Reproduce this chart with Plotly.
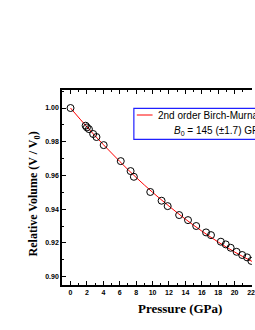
import plotly.graph_objects as go

# Measured data (pressure GPa, relative volume)
pressure = [0.0, 1.84, 2.0, 2.24, 2.76, 3.16, 4.04, 6.12, 7.32, 7.72, 9.72, 11.1, 11.84,
            13.24, 14.32, 15.32, 16.52, 17.12, 18.32, 18.92, 19.52, 20.24, 20.92, 21.52, 22.04]
rel_volume = [1.000, 0.9895, 0.9885, 0.9875, 0.9846, 0.9828, 0.9780, 0.9685, 0.9626, 0.9592,
              0.9502, 0.9450, 0.9418, 0.9365, 0.9335, 0.9300, 0.9262, 0.9246, 0.9207, 0.9191,
              0.9171, 0.9147, 0.9128, 0.9114, 0.9093]

# Fitted curve
fit_p = [0, 2, 4, 6, 8, 10, 12, 14, 16, 18, 20, 22, 24]
fit_v = [1.0, 0.9888, 0.9783, 0.9683, 0.9588, 0.9500, 0.9418, 0.9341, 0.9270, 0.9205,
         0.9146, 0.9093, 0.9046]

x_ticks = [0, 2, 4, 6, 8, 10, 12, 14, 16, 18, 20, 22]
y_ticks = [0.90, 0.92, 0.94, 0.96, 0.98, 1.00]

legend_line1 = "2nd order Birch-Murnaghan"
legend_line2 = "<i>B</i><sub>0</sub> = 145 (±1.7) GPa"

W, H = 255, 330
L, R, T, B = 62, 0, 90, 45
PW, PH = W - L - R, H - T - B


def px(x):
    return (x - L) / PW


def py(y):
    return (H - B - y) / PH


fig = go.Figure()
fig.add_trace(go.Scatter(x=fit_p, y=fit_v, mode="lines", line=dict(color="red", width=1, shape="spline"),
                         showlegend=False))
fig.add_trace(go.Scatter(x=pressure, y=rel_volume, mode="markers",
                         marker=dict(symbol="circle-open", size=7, color="black", line=dict(width=1)),
                         showlegend=False))

axis_font = dict(family="Arial, Liberation Sans", size=7, color="black", weight="bold")

fig.update_layout(
    width=W, height=H, margin=dict(l=L, r=R, t=T, b=B),
    paper_bgcolor="white", plot_bgcolor="white",
    showlegend=False,
    xaxis=dict(range=[-1.04, 22.12], tickvals=x_ticks, ticks="inside", ticklen=4, tickwidth=1,
               tickcolor="black", showline=True, linecolor="black", linewidth=1.5, mirror="ticks",
               showgrid=False, zeroline=False, tickfont=axis_font, ticklabeloverflow="allow",
               minor=dict(dtick=1, tick0=0, ticks="inside", ticklen=2, tickcolor="black", showgrid=False)),
    yaxis=dict(range=[0.895, 1.0107], tickvals=y_ticks, tickformat=".2f", ticks="inside", ticklen=4,
               tickwidth=1, tickcolor="black", showline=True, linecolor="black", linewidth=1.5,
               mirror=False, showgrid=False, zeroline=False, tickfont=axis_font,
               minor=dict(dtick=0.01, tick0=0.90, ticks="inside", ticklen=2, tickcolor="black",
                          showgrid=False)),
)

# Axis titles
fig.add_annotation(text="<b>Pressure (GPa)</b>", xref="paper", yref="paper", x=px(182), y=py(308),
                   xanchor="center", yanchor="middle", showarrow=False,
                   font=dict(family="Liberation Serif, Times New Roman", size=13, color="black"))
fig.add_annotation(text="<b>Relative Volume (V / V<sub>0</sub>)</b>", xref="paper", yref="paper",
                   x=px(34), y=py(194), xanchor="center", yanchor="middle", textangle=-90, showarrow=False,
                   font=dict(family="Liberation Serif, Times New Roman", size=12, color="black"))

# Legend box
fig.add_shape(type="rect", xref="paper", yref="paper", x0=px(135), x1=px(275), y0=py(139.3), y1=py(108.3),
              line=dict(color="#2020ff", width=1.2), fillcolor="white", layer="above")
fig.add_shape(type="line", xref="paper", yref="paper", x0=px(138), x1=px(154), y0=py(115), y1=py(115),
              line=dict(color="red", width=1), layer="above")
leg_font = dict(family="Arial, Liberation Sans", size=10, color="black")
fig.add_annotation(text=legend_line1, xref="paper", yref="paper", x=px(157), y=py(115), xanchor="left",
                   yanchor="middle", showarrow=False, font=leg_font)
fig.add_annotation(text=legend_line2, xref="paper", yref="paper", x=px(174), y=py(130.5), xanchor="left",
                   yanchor="middle", showarrow=False, font=leg_font)

fig.write_html("out.html", config={"displayModeBar": False},
               post_script="document.body.style.margin='0';document.body.style.overflow='hidden';")
